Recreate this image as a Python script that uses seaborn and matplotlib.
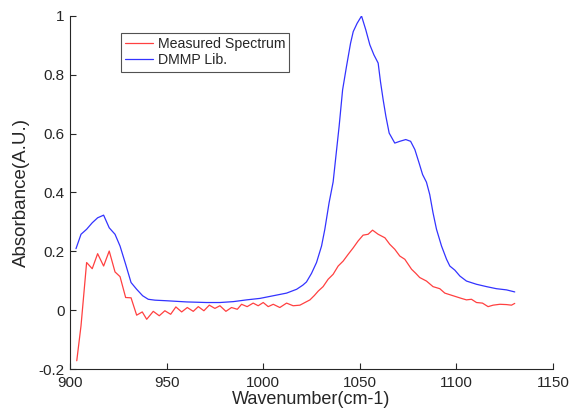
import matplotlib
matplotlib.use("Agg")
import matplotlib.pyplot as plt
import seaborn as sns
import pandas as pd

# Measured spectrum (red)
meas_wn = [903.5, 905.7, 908.6, 911.5, 914.3, 917.4, 920.3, 923.3, 925.9, 928.8,
           931.6, 934.5, 937.4, 939.7, 943.1, 946.2, 949.1, 952.1, 954.8, 957.8,
           960.7, 963.8, 966.4, 969.3, 972.1, 975.0, 977.6, 980.7, 983.6, 986.6,
           988.8, 991.7, 994.8, 997.4, 1000.0, 1002.6, 1005.2, 1008.6, 1012.1, 1015.5,
           1019.0, 1021.6, 1024.2, 1026.5, 1028.5, 1031.0, 1033.6, 1036.2, 1038.8, 1041.4,
           1044.0, 1046.6, 1049.1, 1051.7, 1054.3, 1056.6, 1059.5, 1063.0, 1065.5, 1068.1,
           1070.7, 1073.3, 1076.8, 1079.0, 1081.0, 1084.5, 1087.9, 1091.4, 1094.0, 1098.3,
           1102.6, 1105.2, 1107.8, 1110.4, 1113.5, 1116.4, 1119.0, 1122.5, 1125.9, 1128.5,
           1130.2]
meas_abs = [-0.172, -0.053, 0.162, 0.141, 0.192, 0.150, 0.201, 0.130, 0.114, 0.043,
            0.042, -0.017, -0.006, -0.031, -0.004, -0.019, -0.002, -0.014, 0.011, -0.006,
            0.009, -0.004, 0.012, -0.002, 0.017, 0.006, 0.015, -0.004, 0.009, 0.003,
            0.020, 0.012, 0.024, 0.015, 0.026, 0.012, 0.020, 0.009, 0.024, 0.015,
            0.017, 0.026, 0.035, 0.050, 0.065, 0.080, 0.105, 0.122, 0.150, 0.167,
            0.190, 0.212, 0.235, 0.255, 0.258, 0.272, 0.258, 0.246, 0.224, 0.207,
            0.184, 0.173, 0.139, 0.125, 0.111, 0.099, 0.080, 0.073, 0.058, 0.049,
            0.040, 0.035, 0.037, 0.026, 0.024, 0.012, 0.017, 0.020, 0.019, 0.017,
            0.023]

# DMMP library spectrum (blue)
lib_wn = [903.1, 905.7, 908.6, 911.5, 914.3, 917.4, 920.3, 923.3, 925.9, 928.8,
          931.6, 934.5, 937.6, 940.5, 944.0, 950.0, 960.4, 970.7, 977.6, 984.5,
          991.4, 998.3, 1005.2, 1012.1, 1017.3, 1020.5, 1022.4, 1025.0, 1027.6, 1030.2,
          1031.9, 1034.1, 1036.2, 1038.0, 1039.3, 1041.1, 1043.1, 1045.2, 1046.6, 1048.6,
          1050.9, 1053.1, 1055.2, 1057.3, 1059.5, 1060.7, 1062.1, 1063.5, 1065.2, 1068.1,
          1070.7, 1073.8, 1076.3, 1078.5, 1080.7, 1082.5, 1084.5, 1086.2, 1087.9, 1089.7,
          1092.3, 1094.9, 1096.6, 1099.2, 1101.8, 1105.2, 1110.4, 1115.6, 1120.7, 1125.9,
          1130.2]
lib_abs = [0.209, 0.258, 0.275, 0.297, 0.314, 0.323, 0.280, 0.258, 0.218, 0.156,
           0.094, 0.071, 0.049, 0.037, 0.034, 0.032, 0.028, 0.026, 0.026, 0.029,
           0.035, 0.040, 0.049, 0.058, 0.071, 0.085, 0.096, 0.125, 0.162, 0.218,
           0.275, 0.365, 0.436, 0.546, 0.625, 0.749, 0.828, 0.907, 0.947, 0.975,
           1.000, 0.953, 0.902, 0.868, 0.840, 0.777, 0.715, 0.659, 0.602, 0.568,
           0.574, 0.580, 0.574, 0.546, 0.500, 0.461, 0.435, 0.393, 0.331, 0.275,
           0.218, 0.173, 0.150, 0.136, 0.116, 0.099, 0.088, 0.080, 0.073, 0.069,
           0.062]

x_ticks = [900, 950, 1000, 1050, 1100, 1150]
y_ticks = [-0.2, 0, 0.2, 0.4, 0.6, 0.8, 1]
y_tick_labels = ["-0.2", "0", "0.2", "0.4", "0.6", "0.8", "1"]

sns.set_theme(style="white")
plt.rcParams["font.family"] = ["Liberation Sans", "DejaVu Sans"]

fig = plt.figure(figsize=(5.72, 4.15), dpi=100)
ax = fig.add_axes([70 / 572, 46 / 415, 483 / 572, 353 / 415])

df_meas = pd.DataFrame({"wn": meas_wn, "abs": meas_abs})
df_lib = pd.DataFrame({"wn": lib_wn, "abs": lib_abs})

sns.lineplot(data=df_meas, x="wn", y="abs", ax=ax, color="#ff4040", lw=0.9,
             label="Measured Spectrum", sort=False)
sns.lineplot(data=df_lib, x="wn", y="abs", ax=ax, color="#3333ff", lw=0.9,
             label="DMMP Lib.", sort=False)

ax.set_xlim(900, 1150)
ax.set_ylim(-0.2, 1)
ax.set_xticks(x_ticks)
ax.set_xticklabels([str(t) for t in x_ticks])
ax.set_yticks(y_ticks)
ax.set_yticklabels(y_tick_labels)

for s in ["top", "right"]:
    ax.spines[s].set_visible(False)
for s in ["left", "bottom"]:
    ax.spines[s].set_color("#262626")
    ax.spines[s].set_linewidth(0.8)

ax.tick_params(axis="both", direction="in", length=4, width=0.8, color="#262626",
               labelsize=11, labelcolor="#262626", left=True, bottom=True)
ax.tick_params(axis="x", pad=5)
ax.tick_params(axis="y", pad=4)

ax.set_xlabel("Wavenumber(cm-1)", fontsize=13, color="#262626", labelpad=1)
ax.set_ylabel("Absorbance(A.U.)", fontsize=13.5, color="#262626", labelpad=6)

leg = ax.legend(loc="upper left", bbox_to_anchor=(0.105, 0.952), fontsize=10.2,
                frameon=True, fancybox=False, handlelength=2.0, handletextpad=0.3,
                borderpad=0.3, labelspacing=0.15, borderaxespad=0)
leg.get_frame().set_edgecolor("#262626")
leg.get_frame().set_linewidth(0.8)
for t in leg.get_texts():
    t.set_color("#262626")

fig.savefig("out.png", dpi=100)
